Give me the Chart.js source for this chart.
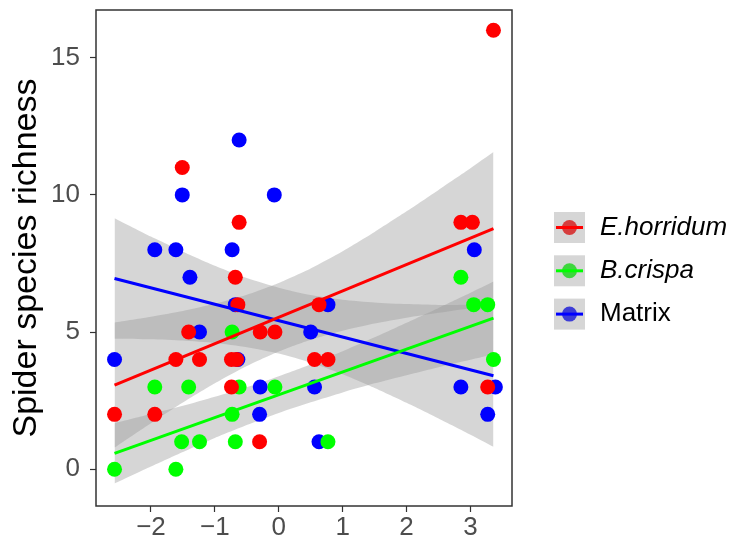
<!DOCTYPE html>
<html>
<head>
<meta charset="utf-8">
<script src="https://cdn.jsdelivr.net/npm/chart.js@4.4.1/dist/chart.umd.min.js"></script>
<style>
  html, body { margin: 0; padding: 0; background: #ffffff; }
</style>
</head>
<body>
<canvas id="chart" width="732" height="540"></canvas>
<script>
// Group names and colours
const seriesNames = ['E.horridum', 'B.crispa', 'Matrix'];
const seriesColors = ['#ff0000', '#00ff00', '#0000ff'];
const keyDotColors = ['#d63d3d', '#3dd63d', '#3d3dd6'];

// Observed points (x = site predictor, y = spider species richness)
const horridumX = [-1.51, -0.62, -0.68, -0.64, -1.41, -0.29, -0.06, -1.61, -1.24, -0.74, -0.66, -0.74, -2.57, -1.94, -0.30, 3.36, 2.85, 3.03, 0.63, 0.56, 0.77, 3.27];
const horridumY = [11, 9, 7, 6, 5, 5, 5, 4, 4, 4, 4, 3, 2, 2, 1, 16, 9, 9, 6, 4, 4, 3];

const crispaX = [-0.73, -1.94, -1.41, -0.62, -0.06, -0.73, -1.52, -1.24, -0.68, -2.57, -1.61, 2.85, 3.05, 3.27, 3.36, 0.77];
const crispaY = [5, 3, 3, 3, 3, 2, 1, 1, 1, 0, 0, 7, 6, 6, 4, 1];

const matrixX = [-0.62, -1.51, -0.07, -1.94, -1.61, -0.73, -1.39, -0.68, -1.24, -2.57, -0.64, -0.29, -0.30, 3.06, 0.77, 0.50, 0.56, 2.85, 3.39, 3.27, 0.63];
const matrixY = [12, 10, 10, 8, 8, 8, 7, 6, 5, 4, 4, 3, 2, 8, 6, 5, 3, 3, 3, 2, 1];

// Fitted lines (ends)
const fitX = [-2.57, 3.36];
const horridumFit = [3.07, 8.77];
const crispaFit = [0.58, 5.51];
const matrixFit = [6.95, 3.41];

// Confidence bands
const bandX = [-2.57, -2, -1.5, -1, -0.5, 0, 0.5, 1, 1.5, 2, 2.5, 3, 3.36];
const horridumLower = [0.79, 1.68, 2.43, 3.13, 3.76, 4.29, 4.72, 5.05, 5.31, 5.52, 5.70, 5.87, 5.98];
const horridumUpper = [5.35, 5.56, 5.77, 6.03, 6.36, 6.79, 7.32, 7.95, 8.65, 9.40, 10.18, 10.97, 11.56];
const crispaLower = [-0.52, 0.10, 0.63, 1.14, 1.61, 2.05, 2.44, 2.80, 3.13, 3.43, 3.72, 3.99, 4.18];
const crispaUpper = [1.68, 2.01, 2.31, 2.64, 2.99, 3.39, 3.82, 4.30, 4.81, 5.34, 5.88, 6.43, 6.84];
const matrixLower = [4.76, 4.74, 4.69, 4.60, 4.45, 4.22, 3.89, 3.46, 2.96, 2.42, 1.85, 1.26, 0.82];
const matrixUpper = [9.15, 8.48, 7.93, 7.42, 6.97, 6.62, 6.35, 6.18, 6.08, 6.02, 5.99, 6.00, 6.00];

// Axis ticks
const xTicks = [-2, -1, 0, 1, 2, 3];
const yTicks = [0, 5, 10, 15];

const FONT = '"Liberation Sans", Arial, Helvetica, sans-serif';
const BAND_FILL = 'rgba(153, 153, 153, 0.4)';

const toXY = (xs, ys) => xs.map((x, i) => ({ x, y: ys[i] }));

const pointSet = (label, xs, ys, color) => ({
  type: 'scatter',
  label,
  data: toXY(xs, ys),
  backgroundColor: color,
  borderWidth: 0,
  pointRadius: 7.5,
  order: 2
});

const fitSet = (label, ys, color) => ({
  type: 'line',
  label,
  data: toXY(fitX, ys),
  borderColor: color,
  borderWidth: 3,
  pointRadius: 0,
  fill: false,
  order: 1
});

const bandSets = (label, upper, lower) => [
  {
    type: 'line',
    label: label + ' upper',
    data: toXY(bandX, upper),
    borderWidth: 0,
    borderColor: 'rgba(0,0,0,0)',
    backgroundColor: BAND_FILL,
    pointRadius: 0,
    tension: 0.2,
    fill: '+1',
    order: 3
  },
  {
    type: 'line',
    label: label + ' lower',
    data: toXY(bandX, lower),
    borderWidth: 0,
    borderColor: 'rgba(0,0,0,0)',
    pointRadius: 0,
    tension: 0.2,
    fill: false,
    order: 3
  }
];

// plot frame (panel border)
const framePlugin = {
  id: 'frame',
  afterDraw(chart) {
    const { ctx, chartArea: a } = chart;
    ctx.save();
    ctx.strokeStyle = '#333333';
    ctx.lineWidth = 1.5;
    ctx.strokeRect(a.left, a.top, a.right - a.left, a.bottom - a.top);
    ctx.restore();
  }
};

// ggplot-like legend on the right
const keyPlugin = {
  id: 'keys',
  afterDraw(chart) {
    const ctx = chart.ctx;
    const bx = 554, size = 31;
    ctx.save();
    seriesNames.forEach((name, i) => {
      const cy = 227.5 + i * 43.3;
      ctx.fillStyle = '#d6d6d6';
      ctx.fillRect(bx, cy - size / 2, size, size);
      ctx.fillStyle = keyDotColors[i];
      ctx.beginPath();
      ctx.arc(bx + size / 2, cy, 7.5, 0, Math.PI * 2);
      ctx.fill();
      ctx.strokeStyle = seriesColors[i];
      ctx.lineWidth = 3;
      ctx.beginPath();
      ctx.moveTo(bx + 2, cy);
      ctx.lineTo(bx + size - 2, cy);
      ctx.stroke();
      ctx.font = (i < 2 ? 'italic ' : '') + '26px ' + FONT;
      ctx.fillStyle = '#000000';
      ctx.textBaseline = 'middle';
      ctx.textAlign = 'left';
      ctx.fillText(name, 600, cy);
    });
    ctx.restore();
  }
};

new Chart(document.getElementById('chart'), {
  data: {
    datasets: [
      ...bandSets(seriesNames[0], horridumUpper, horridumLower),
      ...bandSets(seriesNames[1], crispaUpper, crispaLower),
      ...bandSets(seriesNames[2], matrixUpper, matrixLower),
      pointSet(seriesNames[0], horridumX, horridumY, seriesColors[0]),
      pointSet(seriesNames[1], crispaX, crispaY, seriesColors[1]),
      pointSet(seriesNames[2], matrixX, matrixY, seriesColors[2]),
      fitSet(seriesNames[0], horridumFit, seriesColors[0]),
      fitSet(seriesNames[1], crispaFit, seriesColors[1]),
      fitSet(seriesNames[2], matrixFit, seriesColors[2])
    ]
  },
  options: {
    responsive: false,
    animation: false,
    layout: { padding: { left: 0, right: 220, top: 10, bottom: 0 } },
    plugins: {
      legend: { display: false },
      tooltip: { enabled: false }
    },
    scales: {
      x: {
        type: 'linear',
        min: -2.86,
        max: 3.65,
        afterBuildTicks: (s) => { s.ticks = xTicks.map(v => ({ value: v })); },
        afterFit: (s) => { s.height = 34; s.paddingLeft = 0; s.paddingRight = 0; },
        border: { display: false },
        grid: { drawOnChartArea: false, drawTicks: true, tickLength: 6, tickWidth: 1.2, tickColor: '#333333' },
        ticks: {
          color: '#4d4d4d',
          padding: 0,
          maxRotation: 0,
          font: { family: FONT, size: 26 },
          callback: (v) => (v < 0 ? '\u2212' + Math.abs(v) : String(v))
        }
      },
      y: {
        type: 'linear',
        min: -1.34,
        max: 16.74,
        afterBuildTicks: (s) => { s.ticks = yTicks.map(v => ({ value: v })); },
        afterFit: (s) => { s.width = 96; s.paddingTop = 0; s.paddingBottom = 0; },
        border: { display: false },
        grid: { drawOnChartArea: false, drawTicks: true, tickLength: 6, tickWidth: 1.2, tickColor: '#333333' },
        ticks: {
          color: '#4d4d4d',
          padding: 10,
          font: { family: FONT, size: 26 }
        },
        title: {
          display: true,
          text: 'Spider species richness',
          color: '#000000',
          padding: { top: 6, bottom: 0 },
          font: { family: FONT, size: 34 }
        }
      }
    }
  },
  plugins: [framePlugin, keyPlugin]
});
</script>
</body>
</html>
